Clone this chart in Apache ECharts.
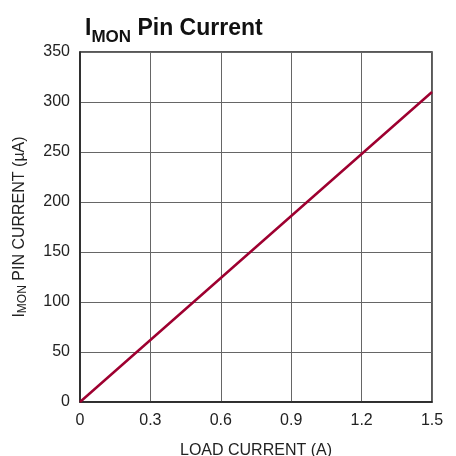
<!DOCTYPE html>
<html><head><meta charset="utf-8">
<script src="https://cdn.jsdelivr.net/npm/echarts@6/dist/echarts.min.js"></script>
<style>html,body{margin:0;padding:0;background:#fff}#c{width:456px;height:456px}</style>
</head><body><div id="c"></div>
<script>
const loadCurrent = [0, 0.3, 0.6, 0.9, 1.2, 1.5];
const imonCurrent = [0, 62, 124, 186, 248, 310];
const xTicks = [0, 0.3, 0.6, 0.9, 1.2, 1.5];
const yTicks = [0, 50, 100, 150, 200, 250, 300, 350];

const FONT = '"Liberation Sans Narrow", "Liberation Sans", Arial, sans-serif';
const chart = echarts.init(document.getElementById('c'));
chart.setOption({
  animation: false,
  title: {
    text: '{b|I}{s|MON}{b| Pin Current}',
    left: 80, top: 5,
    textStyle: {
      rich: {
        b: {fontFamily: FONT, fontWeight: 'bold', fontSize: 23, color: '#111', verticalAlign: 'bottom', lineHeight: 30},
        s: {fontFamily: FONT, fontWeight: 'bold', fontSize: 17, color: '#111', verticalAlign: 'bottom', lineHeight: 22, padding: [0,0,-6,0]}
      }
    }
  },
  grid: {left: 80, right: 24, top: 52, bottom: 54, show: true, borderColor: '#222', borderWidth: 1.5,
    containLabel: false, outerBoundsMode: 'none'},
  xAxis: {
    type: 'value', min: 0, max: 1.5, interval: 0.3,
    name: 'LOAD CURRENT (A)', nameLocation: 'middle', nameGap: 41,
    nameTextStyle: {fontFamily: FONT, fontSize: 16, color: '#222'},
    axisLine: {show: true, lineStyle: {color: '#222', width: 1.5}},
    axisTick: {show: false},
    axisLabel: {fontFamily: FONT, fontSize: 16, color: '#222', margin: 11,
      formatter: v => xTicks.find(t => Math.abs(t - v) < 1e-9) !== undefined ? String(+v.toFixed(1)) : ''},
    splitLine: {show: true, lineStyle: {color: '#666', width: 1}}
  },
  yAxis: {
    type: 'value', min: 0, max: 350, interval: 50,
    name: '{n|I}{s|MON}{n| PIN CURRENT (µA)}', nameLocation: 'middle', nameGap: 52, nameRotate: 90,
    nameTextStyle: {
      rich: {
        n: {fontFamily: FONT, fontSize: 16, color: '#222'},
        s: {fontFamily: FONT, fontSize: 12, color: '#222', padding: [0,0,-5,0]}
      }
    },
    axisLine: {show: true, lineStyle: {color: '#222', width: 1.5}},
    axisTick: {show: false},
    axisLabel: {fontFamily: FONT, fontSize: 16, color: '#222', margin: 10},
    splitLine: {show: true, lineStyle: {color: '#666', width: 1}}
  },
  series: [{
    type: 'line',
    data: loadCurrent.map((x, i) => [x, imonCurrent[i]]),
    showSymbol: false,
    lineStyle: {color: '#9e0030', width: 2.5},
    clip: true
  }]
});
</script></body></html>
